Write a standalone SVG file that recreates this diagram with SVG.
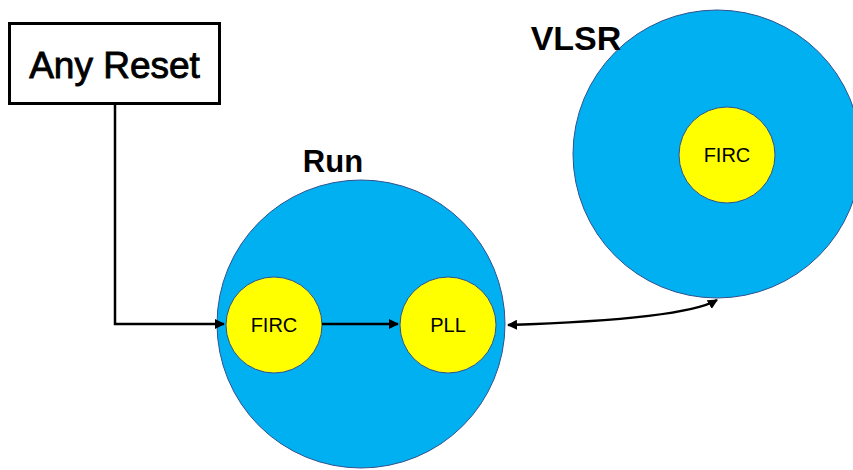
<svg xmlns="http://www.w3.org/2000/svg" width="853" height="470" viewBox="0 0 853 470">
<style>
.big{fill:#00B0F0;stroke:#2F528F;stroke-width:1}
.small{fill:#FFFF00;stroke:#2F528F;stroke-width:1}
.lbl{font-family:"Liberation Sans",Arial,sans-serif;font-size:20px;fill:#000;text-anchor:middle}
.title{font-family:"Liberation Sans",Arial,sans-serif;font-weight:bold;fill:#000}
.conn{fill:none;stroke:#000;stroke-width:2.5}
</style>
<defs>
<marker id="ah" viewBox="0 0 10 10" refX="9" refY="5" markerWidth="4" markerHeight="4" orient="auto-start-reverse" markerUnits="strokeWidth">
<path d="M0,0 L10,5 L0,10 z" fill="#000"/>
</marker>
</defs>
<rect width="853" height="470" fill="#fff"/>
<g id="any-reset">
<rect x="9.5" y="23.5" width="210" height="80" fill="#fff" stroke="#000" stroke-width="3"/>
<text x="114.5" y="78" text-anchor="middle" font-family="'Liberation Sans',Arial,sans-serif" font-size="37" fill="#000" stroke="#000" stroke-width="0.9">Any Reset</text>
</g>
<g id="run">
<circle class="big" cx="361" cy="324" r="144"/>
<text class="title" x="333" y="172" font-size="31" text-anchor="middle">Run</text>
</g>
<g id="vlsr">
<circle class="big" cx="717" cy="154" r="144"/>
<text class="title" x="576" y="50" font-size="34" text-anchor="middle">VLSR</text>
</g>
<g id="run-firc">
<circle class="small" cx="274" cy="325" r="48"/>
<text class="lbl" x="274" y="332">FIRC</text>
</g>
<g id="run-pll">
<circle class="small" cx="448" cy="325" r="48"/>
<text class="lbl" x="448" y="332">PLL</text>
</g>
<g id="vlsr-firc">
<circle class="small" cx="727" cy="155" r="48"/>
<text class="lbl" x="727" y="162">FIRC</text>
</g>
<g id="connectors">
<path class="conn" d="M115,104 V324 H224" marker-end="url(#ah)"/>
<path class="conn" d="M322,324 H398" marker-end="url(#ah)"/>
<path class="conn" d="M508,325 C600,322 690,316 717,300" marker-start="url(#ah)" marker-end="url(#ah)"/>
</g>
</svg>
